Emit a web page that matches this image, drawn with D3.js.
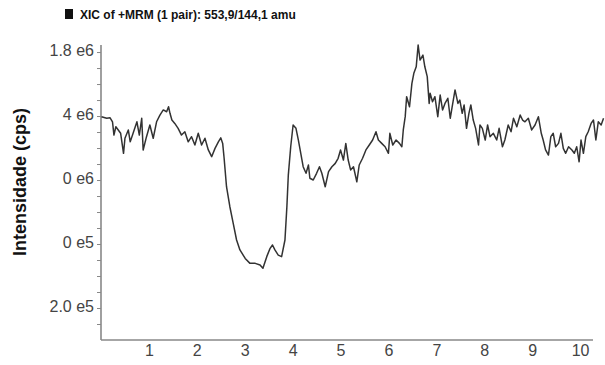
<!DOCTYPE html>
<html>
<head>
<meta charset="utf-8">
<script src="https://cdn.jsdelivr.net/npm/d3@7"></script>
<style>
  html, body { margin: 0; padding: 0; background: #fff; }
  svg { display: block; }
</style>
</head>
<body>
<svg id="chart" width="605" height="365"></svg>
<script>
// XIC trace: retention time (min) and intensity (x1e5 cps)
const retentionTime = [0.01,0.12,0.19,0.24,0.27,0.31,0.36,0.41,0.47,0.50,0.57,0.61,0.67,0.75,0.80,0.85,0.88,0.95,1.02,1.09,1.16,1.23,1.30,1.37,1.41,1.44,1.48,1.54,1.61,1.68,1.75,1.82,1.89,1.96,2.03,2.10,2.17,2.24,2.31,2.38,2.45,2.50,2.54,2.57,2.62,2.69,2.76,2.83,2.90,3.01,3.11,3.22,3.32,3.38,3.46,3.53,3.58,3.63,3.70,3.77,3.84,3.88,3.91,3.96,4.01,4.07,4.12,4.17,4.22,4.28,4.33,4.36,4.43,4.50,4.56,4.61,4.68,4.75,4.82,4.89,4.95,5.00,5.06,5.11,5.16,5.21,5.27,5.34,5.39,5.46,5.53,5.60,5.67,5.74,5.79,5.86,5.93,6.00,6.03,6.09,6.16,6.23,6.28,6.31,6.35,6.38,6.44,6.49,6.53,6.58,6.62,6.66,6.72,6.76,6.81,6.85,6.87,6.92,6.97,7.03,7.08,7.13,7.18,7.24,7.29,7.33,7.39,7.45,7.49,7.54,7.58,7.63,7.68,7.72,7.77,7.82,7.88,7.91,7.96,8.02,8.07,8.12,8.19,8.26,8.31,8.38,8.43,8.50,8.56,8.61,8.68,8.75,8.80,8.85,8.92,8.99,9.06,9.13,9.19,9.23,9.28,9.34,9.39,9.44,9.49,9.55,9.60,9.65,9.70,9.76,9.83,9.88,9.93,9.98,10.02,10.07,10.12,10.17,10.23,10.28,10.33,10.38,10.44,10.49];
const intensity = [13.96,13.86,13.89,13.64,12.81,13.33,13.13,12.92,11.67,12.61,13.13,12.39,12.92,13.64,12.81,13.86,11.88,12.71,13.44,12.61,13.64,14.06,14.38,14.27,14.58,14.17,13.75,13.54,13.23,12.81,13.02,12.39,12.71,12.19,12.92,12.19,12.61,11.88,11.46,11.98,12.39,12.64,12.29,11.36,9.58,8.33,7.29,6.25,5.63,5.10,4.79,4.79,4.69,4.48,5.21,5.73,5.94,5.63,5.31,5.21,6.25,8.33,10.31,12.08,13.44,13.23,12.50,11.67,10.83,10.42,10.94,10.11,10.00,10.42,10.83,10.42,9.58,10.52,10.83,11.04,11.36,11.88,11.25,12.29,11.25,10.63,10.83,9.89,10.94,11.36,11.88,12.19,12.50,13.02,12.50,12.29,12.08,11.67,12.92,12.19,12.50,12.29,12.08,13.13,13.96,15.21,14.58,16.04,16.67,17.08,18.44,17.50,17.81,17.08,16.46,14.79,15.42,14.89,15.21,13.96,15.31,14.38,14.79,15.11,13.86,14.58,15.63,14.79,15.00,14.17,14.69,13.23,14.17,14.69,13.75,13.23,12.19,13.44,13.23,12.50,13.44,12.71,12.92,12.50,13.23,12.08,12.50,13.44,13.02,13.86,13.33,14.06,13.75,13.64,13.86,13.13,13.44,13.96,12.92,12.50,11.88,11.56,12.71,12.92,12.08,12.29,12.92,11.98,11.67,12.08,11.88,11.67,12.08,11.14,12.50,11.67,12.71,13.02,13.54,13.75,12.50,13.64,13.44,13.86];

// Axis ticks
const xTicks = [1,2,3,4,5,6,7,8,9,10];
const yMajorTicks = [2, 6, 10, 14, 18];
const yMajorLabels = ["2.0 e5", "0 e5", "0 e6", "4 e6", "1.8 e6"];
const yMinorTicks = d3.range(1, 19);

const titleText = "XIC of +MRM (1 pair): 553,9/144,1 amu";
const yTitle = "Intensidade (cps)";

const svg = d3.select("#chart");
const font = "'Liberation Sans', Arial, Helvetica, sans-serif";

const xMax = 10.27;
const x = d3.scaleLinear().domain([0, xMax]).range([101, 593]);
const y = d3.scaleLinear().domain([0, 18.44]).range([340, 45]);

// Slight softening for the trace
svg.append("defs").append("filter")
  .attr("id", "soft")
  .append("feGaussianBlur").attr("stdDeviation", 0.35);

// Title with a filled square marker
svg.append("rect")
  .attr("x", 65).attr("y", 9).attr("width", 8).attr("height", 10)
  .attr("fill", "#111");
svg.append("text")
  .attr("x", 80).attr("y", 18.5)
  .attr("font-family", font).attr("font-size", 12).attr("font-weight", "bold")
  .attr("fill", "#111")
  .text(titleText);

// Y axis: minor ticks every 1e5, labelled majors
const yAxisG = svg.append("g").attr("transform", `translate(${x(0)},0)`);
yAxisG.call(d3.axisLeft(y).tickValues(yMinorTicks).tickSize(4).tickFormat(""));
yAxisG.select(".domain").remove();
yAxisG.selectAll(".tick line").attr("stroke", "#888").attr("stroke-width", 1);
yAxisG.append("line")
  .attr("x1", 0).attr("x2", 0).attr("y1", y.range()[0]).attr("y2", y.range()[1])
  .attr("stroke", "#888").attr("stroke-width", 1.6);

const yLabelG = svg.append("g").attr("transform", `translate(${x(0)},-2)`);
yLabelG.call(d3.axisLeft(y).tickValues(yMajorTicks).tickSize(0).tickPadding(7)
  .tickFormat((d, i) => yMajorLabels[i]));
yLabelG.select(".domain").remove();
yLabelG.selectAll("text")
  .attr("font-family", font).attr("font-size", 16).attr("fill", "#444");

// X axis: baseline and labels, no tick marks
const xAxisG = svg.append("g").attr("transform", `translate(0,${y(0)})`);
xAxisG.call(d3.axisBottom(x).tickValues(xTicks).tickSize(0).tickPadding(5).tickFormat(d3.format("d")));
xAxisG.select(".domain").remove();
xAxisG.append("line")
  .attr("x1", x(0)).attr("x2", x(xMax)).attr("y1", 0).attr("y2", 0)
  .attr("stroke", "#888").attr("stroke-width", 1.6);
xAxisG.selectAll("text")
  .attr("font-family", font).attr("font-size", 16).attr("fill", "#444");

// Y axis title
svg.append("text")
  .attr("transform", `translate(26,182) rotate(-90)`)
  .attr("text-anchor", "middle")
  .attr("font-family", font).attr("font-size", 18).attr("font-weight", "bold")
  .attr("fill", "#111")
  .text(yTitle);

// Chromatogram trace
const points = retentionTime.map((t, i) => [t, intensity[i]]);
const line = d3.line().x(d => x(d[0])).y(d => y(d[1]));
svg.append("path")
  .datum(points)
  .attr("d", line)
  .attr("fill", "none")
  .attr("stroke", "#333")
  .attr("stroke-width", 1.5)
  .attr("stroke-linejoin", "round")
  .attr("filter", "url(#soft)");
</script>
</body>
</html>
